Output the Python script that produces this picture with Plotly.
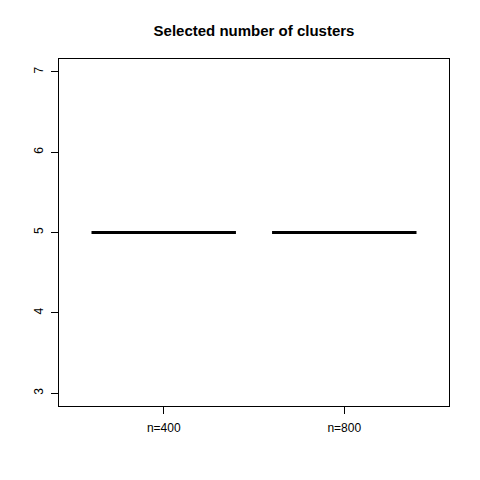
import plotly.graph_objects as go

# data: every run selected 5 clusters
groups = ["n=400", "n=800"]
positions = [1, 2]
medians = [5, 5]
q1 = [5, 5]
q3 = [5, 5]
lower = [5, 5]
upper = [5, 5]

fig = go.Figure()
for i, g in enumerate(groups):
    fig.add_trace(go.Box(x=[positions[i]],
                         q1=[q1[i]], median=[medians[i]], q3=[q3[i]],
                         lowerfence=[lower[i]], upperfence=[upper[i]],
                         width=0.8, name=g,
                         line=dict(color="black", width=3),
                         fillcolor="rgba(0,0,0,0)",
                         whiskerwidth=0.5,
                         showlegend=False, hoverinfo="skip"))

axis_style = dict(showline=True, mirror=True, linecolor="black", linewidth=1,
                  ticks="outside", ticklen=7, tickcolor="black",
                  showgrid=False, zeroline=False, automargin=False,
                  tickfont=dict(family="Liberation Sans, Arial", size=12, color="black"))

# page body has an 8px margin, so the figure is shifted by 8px
fig.update_layout(
    width=480, height=480,
    paper_bgcolor="white", plot_bgcolor="white",
    margin=dict(l=51, r=39, t=51, b=82, autoexpand=False),
    title=dict(text="<b>Selected number of clusters</b>",
               x=0.5, xref="paper", xanchor="center",
               y=1 - 23 / 480, yanchor="middle", automargin=False,
               font=dict(family="Liberation Sans, Arial", size=15, color="black")),
    xaxis=dict(range=[0.42, 2.58], tickvals=positions, ticktext=groups,
               ticklabelstandoff=4, **axis_style),
    yaxis=dict(range=[2.84, 7.16], tickvals=[3, 4, 5, 6, 7], tickangle=-90,
               ticklabelstandoff=3, **axis_style),
)

fig.write_html("out.html")
